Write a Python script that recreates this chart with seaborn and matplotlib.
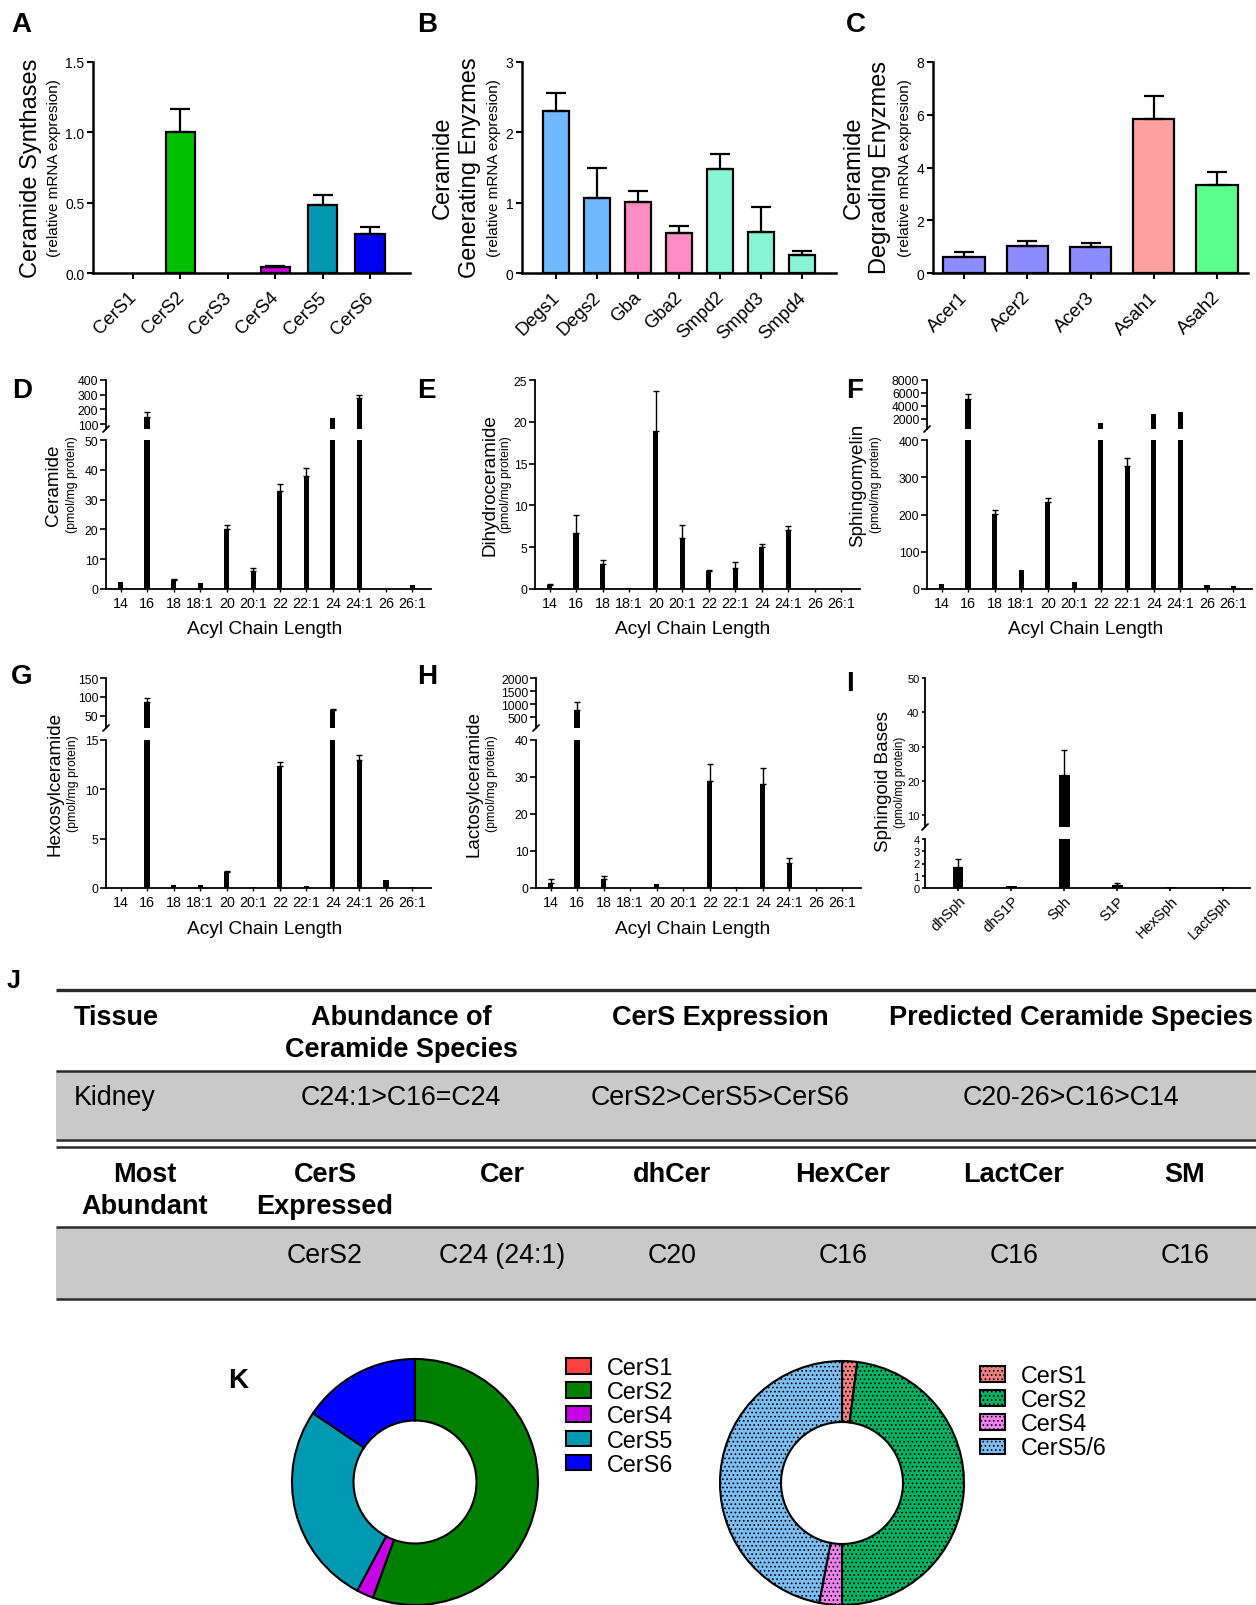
import numpy as np
import pandas as pd
import matplotlib
matplotlib.use("Agg")
import matplotlib.pyplot as plt
import seaborn as sns
from matplotlib.patches import Patch, Rectangle
from matplotlib.lines import Line2D
from matplotlib.transforms import ScaledTranslation

# ======================= DATA =======================
# A: ceramide synthases (relative mRNA expression): mean and mean+SEM
cers_genes = ["CerS1", "CerS2", "CerS3", "CerS4", "CerS5", "CerS6"]
cers_mean = [0.0, 1.00, 0.0, 0.04, 0.48, 0.28]
cers_upper = [0.0, 1.165, 0.0, 0.052, 0.553, 0.327]

# B: ceramide generating enzymes
gen_genes = ["Degs1", "Degs2", "Gba", "Gba2", "Smpd2", "Smpd3", "Smpd4"]
gen_mean = [2.31, 1.07, 1.01, 0.57, 1.48, 0.58, 0.26]
gen_upper = [2.56, 1.49, 1.16, 0.67, 1.69, 0.94, 0.31]

# C: ceramide degrading enzymes
deg_genes = ["Acer1", "Acer2", "Acer3", "Asah1", "Asah2"]
deg_mean = [0.62, 1.02, 0.97, 5.83, 3.35]
deg_upper = [0.78, 1.22, 1.12, 6.70, 3.82]

# D-H: sphingolipid species by acyl chain (pmol/mg protein)
acyl_chains = ["14", "16", "18", "18:1", "20", "20:1", "22", "22:1", "24", "24:1", "26", "26:1"]
cer_mean = [2.5, 145, 3.0, 2.0, 20.0, 6.0, 33.0, 38.0, 140, 275, 0.0, 1.5]
cer_upper = [2.5, 180, 3.5, 2.0, 21.4, 7.0, 35.4, 40.5, 140, 300, 0.0, 1.5]
dhcer_mean = [0.5, 6.7, 3.0, 0.1, 18.9, 6.1, 2.1, 2.5, 5.0, 7.0, 0.0, 0.0]
dhcer_upper = [0.6, 8.9, 3.5, 0.1, 23.7, 7.6, 2.3, 3.2, 5.4, 7.5, 0.0, 0.0]
sm_mean = [14, 5100, 202, 51, 233, 20, 1340, 330, 2720, 3150, 11, 7]
sm_upper = [14, 5850, 211, 51, 243, 20, 1340, 352, 2720, 3150, 11, 7]
hex_mean = [0.05, 86, 0.35, 0.3, 1.6, 0.15, 12.4, 0.2, 66, 13.0, 0.8, 0.1]
hex_upper = [0.05, 96, 0.35, 0.3, 1.75, 0.15, 12.8, 0.2, 68, 13.5, 0.8, 0.1]
lac_mean = [1.4, 780, 2.4, 0.0, 1.2, 0.0, 28.8, 0.2, 28.0, 6.7, 0.0, 0.0]
lac_upper = [2.5, 1090, 3.3, 0.0, 1.2, 0.0, 33.4, 0.2, 32.5, 8.0, 0.0, 0.0]

# I: sphingoid bases
base_names = ["dhSph", "dhS1P", "Sph", "S1P", "HexSph", "LactSph"]
base_mean = [1.7, 0.15, 21.7, 0.25, 0.05, 0.05]
base_upper = [2.37, 0.15, 29.1, 0.38, 0.05, 0.05]

# J: summary table
table1_header = ["Tissue", "Abundance of\nCeramide Species", "CerS Expression", "Predicted Ceramide Species"]
table1_row = ["Kidney", "C24:1>C16=C24", "CerS2>CerS5>CerS6", "C20-26>C16>C14"]
table2_header = ["Most\nAbundant", "CerS\nExpressed", "Cer", "dhCer", "HexCer", "LactCer", "SM"]
table2_row = ["", "CerS2", "C24 (24:1)", "C20", "C16", "C16", "C16"]

# K: donuts
pie_left_genes = ["CerS1", "CerS2", "CerS4", "CerS5", "CerS6"]
pie_left_share = [cers_mean[cers_genes.index(g)] for g in pie_left_genes]
pred_genes = ["CerS1", "CerS2", "CerS4", "CerS5/6"]
pred_share = [2.0, 48.0, 3.0, 47.0]

# ======================= STYLE =======================
cers_colors = ["#FF4040", "#00C000", "#999999", "#CC00DD", "#0099B2", "#0000F0"]
gen_colors = ["#70B9FF", "#70B9FF", "#FF8CC3", "#FF8CC3", "#88F5D7", "#88F5D7", "#88F5D7"]
deg_colors = ["#8C8CFF", "#8C8CFF", "#8C8CFF", "#FFA0A0", "#5AFF8C"]
pie_left_colors = ["#FF4040", "#008000", "#C800E6", "#0099B2", "#0000FF"]
pred_colors = ["#F08080", "#00B264", "#F082F0", "#7DBEF5"]

W, H, DPI = 1256, 1606, 100
sns.set_theme(style="ticks", rc={
    "text.color": "black", "axes.labelcolor": "black", "xtick.color": "black",
    "ytick.color": "black", "axes.edgecolor": "black", "axes.facecolor": "white",
})
plt.rcParams["font.family"] = ["Liberation Sans", "DejaVu Sans"]
plt.rcParams["hatch.color"] = "#333333"
plt.rcParams["hatch.linewidth"] = 0.7

fig = plt.figure(figsize=(W / DPI, H / DPI), dpi=DPI, facecolor="white")


def fx(x):
    return x / W


def fy(y):
    return 1 - y / H


def axpx(x0, y0, x1, y1):
    return fig.add_axes([fx(x0), fy(y1), (x1 - x0) / W, (y1 - y0) / H])


def ftext(x, y, s, **kw):
    kw.setdefault("ha", "center")
    kw.setdefault("va", "center")
    return fig.text(fx(x), fy(y), s, **kw)


def add_errors(ax, mean, upper, lw, cap, lo=-np.inf, hi=np.inf):
    m = np.asarray(mean, float)
    u = np.asarray(upper, float)
    x = np.arange(len(m))
    keep = (u > m) & (u > lo) & (m < hi)
    if keep.any():
        ax.errorbar(x[keep], m[keep], yerr=[np.zeros(keep.sum()), (u - m)[keep]],
                    fmt="none", ecolor="black", elinewidth=lw, capsize=cap,
                    capthick=lw, zorder=3)


def shift_xticklabels(ax, dx_px):
    off = ScaledTranslation(dx_px / DPI, 0, fig.dpi_scale_trans)
    for lab in ax.get_xticklabels():
        lab.set_transform(lab.get_transform() + off)


def gene_panel(x0, x1, genes, mean, upper, colors, ylim, yticks, yticklabels, xlim, width):
    ax = axpx(x0, 63, x1, 274)
    df = pd.DataFrame({"gene": genes, "value": mean})
    sns.barplot(data=df, x="gene", y="value", hue="gene",
                palette=dict(zip(genes, colors)), legend=False, width=width,
                saturation=1, edgecolor="black", linewidth=1.6, errorbar=None,
                ax=ax, zorder=2)
    for p in ax.patches:
        if p.get_height() == 0:
            p.set_linewidth(0)
    add_errors(ax, mean, upper, 1.6, 7)
    ax.set_ylim(*ylim)
    ax.set_xlim(*xlim)
    ax.set_yticks(yticks)
    ax.set_yticklabels(yticklabels)
    ax.set_xticks(range(len(genes)))
    ax.set_xticklabels(genes, rotation=45, ha="right", va="top", rotation_mode="anchor")
    sns.despine(ax=ax)
    for s in ("left", "bottom"):
        ax.spines[s].set_linewidth(1.8)
    ax.tick_params(axis="y", length=4, width=1.5, pad=2.2, labelsize=10)
    ax.tick_params(axis="x", length=4, width=1.5, pad=7, labelsize=13.3)
    shift_xticklabels(ax, -5)
    ax.set_xlabel("")
    ax.set_ylabel("")
    return ax


def black_bars(ax, cats, mean):
    df = pd.DataFrame({"cat": cats, "value": mean})
    sns.barplot(data=df, x="cat", y="value", color="black", saturation=1, width=0.2,
                errorbar=None, ax=ax, zorder=2, linewidth=0)
    ax.set_xlabel("")
    ax.set_ylabel("")


def lipid_panel(x0, x1, ytop, ybot, cats, mean, upper, low_lim, low_ticks, xlim,
                high=None, rotate=False, ytick_size=8.7, ytick_len=4):
    if high is None:
        ax = axpx(x0, ytop, x1, ybot)
    else:
        y_hi_bot, y_lo_top, hi_lim, hi_ticks = high
        ax = axpx(x0, y_lo_top, x1, ybot)
        axu = axpx(x0, ytop, x1, y_hi_bot)
        black_bars(axu, cats, mean)
        add_errors(axu, mean, upper, 1.0, 2.2, lo=hi_lim[0])
        axu.set_xlim(*xlim)
        axu.set_ylim(*hi_lim)
        axu.set_yticks(hi_ticks)
        axu.set_yticklabels([f"{t:g}" for t in hi_ticks])
        for s in ("top", "right", "bottom"):
            axu.spines[s].set_visible(False)
        axu.spines["left"].set_linewidth(1.3)
        axu.tick_params(axis="x", bottom=False, labelbottom=False)
        axu.tick_params(axis="y", length=ytick_len, width=1.2, pad=1.5, labelsize=ytick_size)
        fig.add_artist(Line2D([fx(x0 - 3), fx(x0 + 3)], [fy(y_hi_bot + 3), fy(y_hi_bot - 3)],
                              color="black", lw=1.3))
    black_bars(ax, cats, mean)
    add_errors(ax, mean, upper, 1.0, 2.2, hi=low_lim[1])
    ax.set_xlim(*xlim)
    ax.set_ylim(*low_lim)
    ax.set_yticks(low_ticks)
    ax.set_yticklabels([f"{t:g}" for t in low_ticks])
    ax.set_xticks(range(len(cats)))
    sns.despine(ax=ax)
    for s in ("left", "bottom"):
        ax.spines[s].set_linewidth(1.3)
    ax.tick_params(axis="y", length=ytick_len, width=1.2, pad=1.5, labelsize=ytick_size)
    if rotate:
        ax.set_xticklabels(cats, rotation=45, ha="right", va="top", rotation_mode="anchor")
        ax.tick_params(axis="x", length=2.5, width=1.2, pad=1.5, labelsize=10.5)
    else:
        ax.set_xticklabels(cats)
        ax.tick_params(axis="x", length=2, width=1.0, pad=3.0, labelsize=10.3)
    return ax


# ---------------- Row 1: A-C ----------------
gene_panel(93, 410, cers_genes, cers_mean, cers_upper, cers_colors, (0, 1.5),
           [0, 0.5, 1.0, 1.5], ["0.0", "0.5", "1.0", "1.5"], (-0.844, 5.844), 0.62)
gene_panel(522, 836, gen_genes, gen_mean, gen_upper, gen_colors, (0, 3),
           [0, 1, 2, 3], ["0", "1", "2", "3"], (-0.83, 6.83), 0.63)
gene_panel(933, 1248, deg_genes, deg_mean, deg_upper, deg_colors, (0, 8),
           [0, 2, 4, 6, 8], ["0", "2", "4", "6", "8"], (-0.49, 4.49), 0.65)

ftext(31, 168, "Ceramide Synthases", rotation=90, fontsize=17)
ftext(54, 168, "(relative mRNA expresion)", rotation=90, fontsize=11)
ftext(443, 168, "Ceramide", rotation=90, fontsize=17)
ftext(470, 168, "Generating Enyzmes", rotation=90, fontsize=17)
ftext(494, 168, "(relative mRNA expresion)", rotation=90, fontsize=11)
ftext(854, 168, "Ceramide", rotation=90, fontsize=17)
ftext(880, 168, "Degrading Enyzmes", rotation=90, fontsize=17)
ftext(905, 168, "(relative mRNA expresion)", rotation=90, fontsize=11)

# ---------------- Row 2: D-F ----------------
acyl_xlim = (-0.55, 11.7)
lipid_panel(106, 431, 381, 590, acyl_chains, cer_mean, cer_upper, (0, 50),
            [0, 10, 20, 30, 40, 50], acyl_xlim,
            high=(430, 441, (66, 400), [100, 200, 300, 400]))
lipid_panel(535, 860, 381, 590, acyl_chains, dhcer_mean, dhcer_upper, (0, 25),
            [0, 5, 10, 15, 20, 25], acyl_xlim)
lipid_panel(927, 1252, 381, 590, acyl_chains, sm_mean, sm_upper, (0, 400),
            [0, 100, 200, 300, 400], acyl_xlim,
            high=(430, 441, (460, 8000), [2000, 4000, 6000, 8000]))

ftext(53.5, 485, "Ceramide", rotation=90, fontsize=13.6)
ftext(72, 485, "(pmol/mg protein)", rotation=90, fontsize=8.8)
ftext(489.5, 485, "Dihydroceramide", rotation=90, fontsize=13.6)
ftext(506, 485, "(pmol/mg protein)", rotation=90, fontsize=8.8)
ftext(858, 485, "Sphingomyelin", rotation=90, fontsize=13.6)
ftext(876, 485, "(pmol/mg protein)", rotation=90, fontsize=8.8)
for xc in (265, 693, 1086):
    ftext(xc, 630, "Acyl Chain Length", fontsize=13.8)

# ---------------- Row 3: G-I ----------------
lipid_panel(106, 431, 679, 889, acyl_chains, hex_mean, hex_upper, (0, 15),
            [0, 5, 10, 15], acyl_xlim,
            high=(729, 741, (18, 150), [50, 100, 150]))
lipid_panel(536, 861, 679, 889, acyl_chains, lac_mean, lac_upper, (0, 40),
            [0, 10, 20, 30, 40], acyl_xlim,
            high=(729, 741, (77, 2000), [500, 1000, 1500, 2000]))
lipid_panel(925, 1250, 679, 889, base_names, base_mean, base_upper, (0, 4),
            [0, 1, 2, 3, 4], (-0.625, 5.5),
            high=(828, 840, (6.5, 50), [10, 20, 30, 40, 50]), rotate=True,
            ytick_size=8.0, ytick_len=2.5)

ftext(55, 784, "Hexosylceramide", rotation=90, fontsize=13.6)
ftext(73, 784, "(pmol/mg protein)", rotation=90, fontsize=8.8)
ftext(473.5, 784, "Lactosylceramide", rotation=90, fontsize=13.6)
ftext(492.5, 784, "(pmol/mg protein)", rotation=90, fontsize=8.8)
ftext(884, 782, "Sphingoid Bases", rotation=90, fontsize=13.6)
ftext(900, 782, "(pmol/mg protein)", rotation=90, fontsize=8.4)
for xc in (265, 693):
    ftext(xc, 930, "Acyl Chain Length", fontsize=13.8)

# ---------------- J: table ----------------
axt = axpx(0, 960, W, 1310)
axt.set_xlim(0, W)
axt.set_ylim(1310, 960)
axt.axis("off")
gray = "#C9C9C9"
axt.add_patch(Rectangle((56, 1072), W - 56, 69, facecolor=gray, edgecolor="none"))
axt.add_patch(Rectangle((56, 1228), W - 56, 72, facecolor=gray, edgecolor="none"))
for yl, lw in [(991, 2.4), (1072, 1.8), (1141, 1.8), (1148, 1.8), (1228, 1.8), (1300, 1.8)]:
    axt.plot([56, W], [yl, yl], color="#2a2a2a", lw=lw, solid_capstyle="butt")

t1_x = [74, 401, 720, 1071]
t1_ha = ["left", "center", "center", "center"]
for s, xc, ha in zip(table1_header, t1_x, t1_ha):
    for i, line in enumerate(s.split("\n")):
        axt.text(xc, 1018 + 32 * i, line, ha=ha, va="center", fontsize=19.5, fontweight="bold")
for s, xc, ha in zip(table1_row, t1_x, t1_ha):
    axt.text(xc, 1098, s, ha=ha, va="center", fontsize=19.3)

t2_x = [144.5, 325, 502, 672, 843, 1014, 1185]
for s, xc in zip(table2_header, t2_x):
    for i, line in enumerate(s.split("\n")):
        axt.text(xc, 1175 + 32 * i, line, ha="center", va="center", fontsize=19.5, fontweight="bold")
for s, xc in zip(table2_row, t2_x):
    axt.text(xc, 1256, s, ha="center", va="center", fontsize=19.3)


# ---------------- K: donuts ----------------
def donut(cx, cy, R, shares, colors, hatch=None):
    pad = 1.03
    ax = axpx(cx - R * pad, cy - R * pad, cx + R * pad, cy + R * pad)
    wedges, _ = ax.pie(shares, colors=colors, startangle=90, counterclock=False,
                       wedgeprops=dict(width=0.5, edgecolor="black", linewidth=1.5))
    if hatch:
        for w in wedges:
            w.set_hatch(hatch)
    ax.set_xlim(-pad, pad)
    ax.set_ylim(-pad, pad)
    return ax


donut(415, 1483, 123, pie_left_share, pie_left_colors)
donut(842, 1484, 122, pred_share, pred_colors, hatch="....")

leg_kw = dict(loc="upper left", frameon=False, fontsize=16.8, handlelength=1.07,
              handleheight=0.65, handletextpad=0.7, labelspacing=0.05, borderpad=0,
              borderaxespad=0)
fig.legend([Patch(facecolor=c, edgecolor="black", linewidth=1.5) for c in pie_left_colors],
           pie_left_genes, bbox_to_anchor=(fx(566), fy(1357)), **leg_kw)
fig.legend([Patch(facecolor=c, edgecolor="black", linewidth=1.5, hatch="....") for c in pred_colors],
           pred_genes, bbox_to_anchor=(fx(980), fy(1365)), **leg_kw)

# ---------------- panel letters ----------------
for s, x, y in [("A", 21, 25), ("B", 427, 25), ("C", 856, 25), ("D", 22, 391),
                ("E", 426, 391), ("F", 855, 391), ("G", 22, 677), ("H", 427, 677),
                ("I", 850, 684), ("K", 238, 1381)]:
    ftext(x, y, s, fontsize=20, fontweight="bold")
ftext(14, 981, "J", fontsize=18, fontweight="bold")

fig.savefig("out.png", dpi=DPI, facecolor="white")
